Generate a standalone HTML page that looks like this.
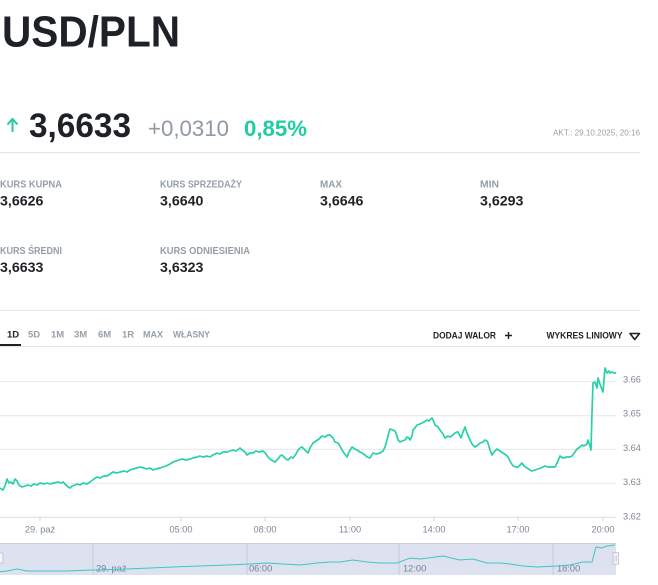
<!DOCTYPE html>
<html><head><meta charset="utf-8"><style>
html,body{margin:0;padding:0;background:#fff;width:658px;height:585px;overflow:hidden}
svg{display:block}
text{font-family:"Liberation Sans",Arial,sans-serif}
</style></head><body>
<svg width="658" height="585" viewBox="0 0 658 585" xmlns="http://www.w3.org/2000/svg">
<rect width="658" height="585" fill="#fff"/>
<!-- Title -->
<text x="2" y="46.5" font-size="44" font-weight="bold" fill="#1e2125" textLength="178" lengthAdjust="spacingAndGlyphs">USD/PLN</text>
<!-- arrow -->
<path d="M12.5 132 V119.5 M7.5 124.5 L12.5 119 L17.5 124.5" stroke="#1fcca3" stroke-width="2" fill="none"/>
<text x="29" y="137" font-size="34" font-weight="bold" fill="#1e2125" textLength="102" lengthAdjust="spacingAndGlyphs">3,6633</text>
<text x="148" y="136" font-size="22" fill="#8f99a3" textLength="81" lengthAdjust="spacingAndGlyphs">+0,0310</text>
<text x="244" y="136" font-size="22" font-weight="bold" fill="#1fcca3" textLength="63" lengthAdjust="spacingAndGlyphs">0,85%</text>
<text x="553" y="135.5" font-size="8.5" fill="#9aa1a8" textLength="87" lengthAdjust="spacingAndGlyphs">AKT.: 29.10.2025, 20:16</text>
<rect x="0" y="152" width="640" height="1" fill="#e3e3e3"/>
<!-- stats -->
<g font-size="9.8" fill="#959ea7" font-weight="bold">
<text x="0" y="187.3" textLength="62" lengthAdjust="spacingAndGlyphs">KURS KUPNA</text>
<text x="160" y="187.3" textLength="82" lengthAdjust="spacingAndGlyphs">KURS SPRZEDAŻY</text>
<text x="320" y="187.3" textLength="22" lengthAdjust="spacingAndGlyphs">MAX</text>
<text x="480" y="187.3" textLength="19" lengthAdjust="spacingAndGlyphs">MIN</text>
<text x="0" y="254" textLength="62" lengthAdjust="spacingAndGlyphs">KURS ŚREDNI</text>
<text x="160" y="254" textLength="90" lengthAdjust="spacingAndGlyphs">KURS ODNIESIENIA</text>
</g>
<g font-size="14.2" fill="#1e2125" font-weight="bold">
<text x="0" y="205.7">3,6626</text>
<text x="160" y="205.7">3,6640</text>
<text x="320" y="205.7">3,6646</text>
<text x="480" y="205.7">3,6293</text>
<text x="0" y="272">3,6633</text>
<text x="160" y="272">3,6323</text>
</g>
<rect x="0" y="310" width="640" height="1" fill="#e5e5e5"/>
<!-- tabs -->
<g font-size="9.5" font-weight="bold" fill="#97a0a9">
<text x="7" y="337.3" fill="#1e2125">1D</text>
<text x="28" y="337.3">5D</text>
<text x="51" y="337.3">1M</text>
<text x="74" y="337.3">3M</text>
<text x="98" y="337.3">6M</text>
<text x="122" y="337.3">1R</text>
<text x="143" y="337.3" textLength="20" lengthAdjust="spacingAndGlyphs">MAX</text>
<text x="173" y="337.3" textLength="37" lengthAdjust="spacingAndGlyphs">WŁASNY</text>
</g>
<g font-size="9.5" font-weight="bold" fill="#1e2125">
<text x="433" y="338.7" textLength="63" lengthAdjust="spacingAndGlyphs">DODAJ WALOR</text>
<text x="546.5" y="338.7" textLength="76" lengthAdjust="spacingAndGlyphs">WYKRES LINIOWY</text>
</g>
<path d="M505 335.5 H512 M508.5 332 V339" stroke="#1e2125" stroke-width="1.4"/>
<path d="M630 333.5 H639.5 L634.75 339.5 Z" stroke="#1e2125" stroke-width="1.6" fill="none" stroke-linejoin="round"/>
<rect x="0" y="346" width="640" height="1" fill="#e5e5e5"/>
<rect x="0" y="344" width="21" height="2" fill="#1e2125"/>
<!-- grid -->
<g fill="#e6e6e6">
<rect x="0" y="381.2" width="616" height="1"/>
<rect x="0" y="415.2" width="616" height="1"/>
<rect x="0" y="448.8" width="616" height="1"/>
<rect x="0" y="482.8" width="616" height="1"/>
<rect x="0" y="516.8" width="616" height="1" fill="#d9dde3"/>
</g>
<g fill="#d0d5dc">
<rect x="39.5" y="517" width="1" height="4"/>
<rect x="180.5" y="517" width="1" height="4"/>
<rect x="264.5" y="517" width="1" height="4"/>
<rect x="349.5" y="517" width="1" height="4"/>
<rect x="433.5" y="517" width="1" height="4"/>
<rect x="517.5" y="517" width="1" height="4"/>
<rect x="602.5" y="517" width="1" height="4"/>
</g>
<g font-size="9.2" fill="#7e8791">
<text x="623" y="382.7">3.66</text>
<text x="623" y="416.7">3.65</text>
<text x="623" y="451.2">3.64</text>
<text x="623" y="485">3.63</text>
<text x="623" y="519.3">3.62</text>
</g>
<g font-size="9.2" fill="#7e8791" text-anchor="middle">
<text x="40" y="532.3">29. paź</text>
<text x="181" y="532.3">05:00</text>
<text x="265" y="532.3">08:00</text>
<text x="350" y="532.3">11:00</text>
<text x="434" y="532.3">14:00</text>
<text x="518" y="532.3">17:00</text>
<text x="603" y="532.3">20:00</text>
</g>
<!-- main series -->
<polyline fill="none" stroke="#28d1aa" stroke-width="1.7" stroke-linejoin="round" points="0,488 3,490 5,486 7,479 9,483 11,482 13,484 15,479 17,481 19,485 22,487 25,486 28,485 31,486 34,484 37,485 40,483 44,484 47,483 50,484 54,483 58,482 61,483 63,482 66,485 68,487 70,488 72,486 75,485 77,484 80,485 83,483 87,484 90,482 94,479 97,477 100,478 104,476 107,476 110,474 113,472 117,473 120,472 124,471 127,472 130,470 133,469 137,468 140,467 144,468 147,469 150,468 153,470 156,469 160,468 163,467 166,466 170,464 173,462 176,461 179,460 182,459 186,460 190,459 193,458 197,457 200,456 203,457 207,456 210,457 213,455 217,453 220,454 223,452 227,452 230,451 233,450 236,451 240,448 242,450 245,452 247,455 250,453 253,453 256,451 259,452 263,451 266,454 268,457 270,459 273,461 275,462 278,459 280,456 282,455 284,457 286,459 288,460 291,457 293,458 296,454 298,450 300,448 302,447 304,449 306,451 308,453 310,448 313,443 316,441 319,439 322,436 325,437 328,435 330,435 333,438 335,442 338,443 340,446 342,450 344,453 347,457 349,452 352,447 355,449 357,450 360,452 362,453 365,455 367,457 370,458 373,453 376,454 380,453 383,451 385,447 387,440 389,432 390,429 393,430 395,431 397,436 398,440 400,442 402,441 405,440 407,437 409,438 410,440 412,436 413,430 415,428 417,425 420,424 422,423 424,422 427,420 429,421 431,419 432,418 434,422 435,425 438,427 440,430 443,434 445,438 448,436 450,437 453,435 455,433 457,432 458,432 460,436 461,438 463,432 465,427 467,433 470,440 472,444 475,447 478,445 480,443 483,442 485,440 487,441 488,443 490,450 492,455 494,452 497,449 500,451 503,453 506,455 508,457 510,461 513,466 516,467 518,467 520,465 522,463 524,466 527,468 530,470 532,471 535,470 538,469 541,468 545,466 548,467 552,467 555,467 557,463 560,456 563,458 567,457 570,457 572,456 575,452 577,449 580,447 582,445 584,446 587,444 588,440 590,446 591,450 592,413 593,383 595,382 597,388 598,378 600,384 601,387 603,392 604,380 605,368 607,373 609,371 610,373 612,372 614,373 616,373"/>
<!-- navigator -->
<rect x="0" y="543" width="616" height="32" fill="#dee2f0"/>
<rect x="0" y="543" width="616" height="1" fill="#c9cedb"/>
<g fill="#c6cbda">
<rect x="92.5" y="543" width="1" height="32"/>
<rect x="246.5" y="543" width="1" height="32"/>
<rect x="398.5" y="543" width="1" height="32"/>
<rect x="552.5" y="543" width="1" height="32"/>
</g>
<g font-size="9.3" fill="#76829a">
<text x="96" y="571.7">29. paź</text>
<text x="249" y="571.7">06:00</text>
<text x="403" y="571.7">12:00</text>
<text x="557" y="571.7">18:00</text>
</g>
<polyline fill="none" stroke="#3fc6bf" stroke-width="1" points="0,571.7 7,571 17,569 27,571 40,571 67,571 93,570 127,569 150,568 173,567 200,566 227,565 250,564 267,563 283,564 300,565 317,563 330,562 340,562 353,560 367,562 380,563 397,563 410,558 420,559 443,556 460,560 473,559 487,563 500,563 510,564 523,566 537,567 557,566 570,565 583,562 592,562 596,547 602,548 607,546 615,545"/>
<rect x="-1" y="553" width="4" height="10" fill="#f4f5f8" stroke="#b9bdc6" stroke-width="0.8"/>
<rect x="613" y="552.7" width="5.5" height="11.5" fill="#f4f5f8" stroke="#b9bdc6" stroke-width="0.8"/>
<path d="M615 555.5 V561.5 M616.6 555.5 V561.5" stroke="#b9bdc6" stroke-width="0.6"/>
</svg>
</body></html>
